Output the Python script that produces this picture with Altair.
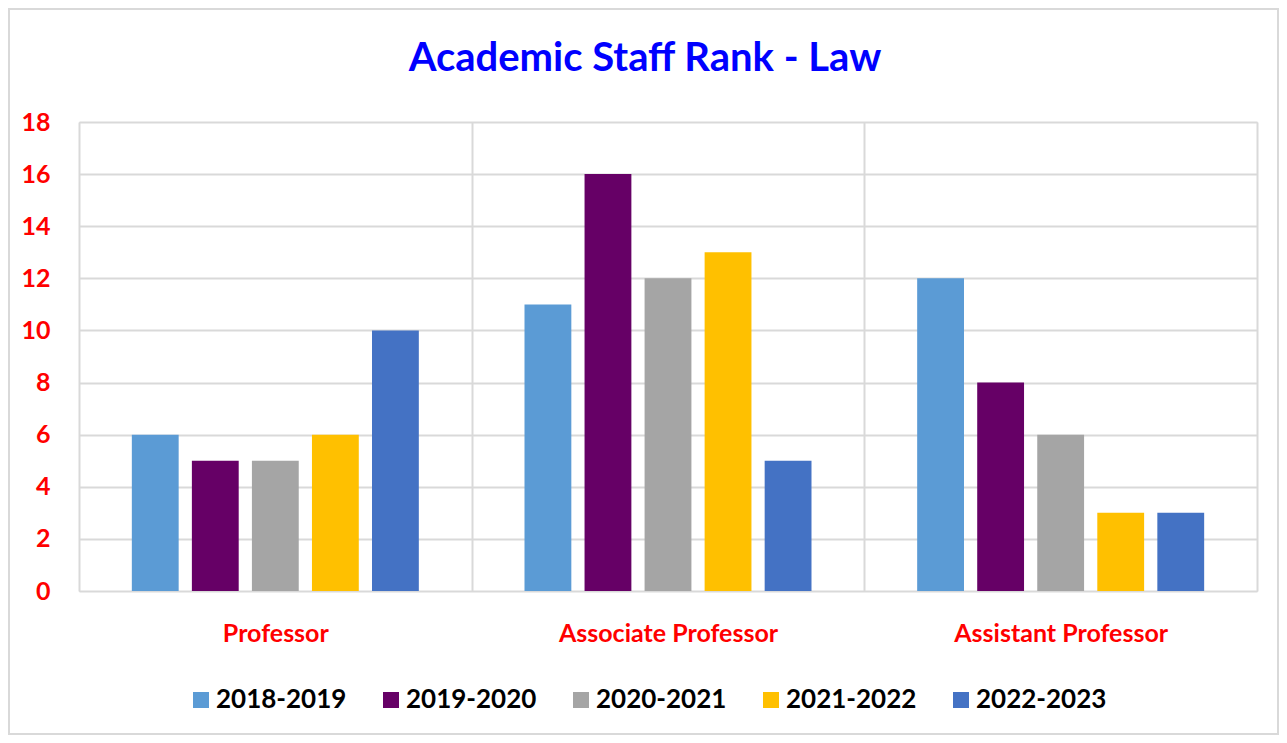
import altair as alt
import pandas as pd

ranks = ["Professor", "Associate Professor", "Assistant Professor"]
years = ["2018-2019", "2019-2020", "2020-2021", "2021-2022", "2022-2023"]
colors = ["#5B9BD5", "#660066", "#A5A5A5", "#FFC000", "#4472C4"]
v2018 = [6, 11, 12]
v2019 = [5, 16, 8]
v2020 = [5, 12, 6]
v2021 = [6, 13, 3]
v2022 = [10, 5, 3]

series = [v2018, v2019, v2020, v2021, v2022]
rows = []
for yr, vals in zip(years, series):
    for rk, v in zip(ranks, vals):
        rows.append({"rank": rk, "year": yr, "count": v})
df = pd.DataFrame(rows)

FONT = "Lato"

bars = alt.Chart(df).mark_bar().encode(
    x=alt.X("rank:N", sort=ranks, title=None,
            scale=alt.Scale(paddingInner=0, paddingOuter=0),
            axis=alt.Axis(labelAngle=0, labelColor="#FF0000", labelFont=FONT,
                          labelFontSize=25, labelFontWeight="bold", labelPadding=30,
                          labelLimit=500,
                          ticks=False, grid=True, tickBand="extent",
                          gridColor="#D9D9D9", gridWidth=2, domain=False)),
    xOffset=alt.XOffset("year:N", sort=years,
                        scale=alt.Scale(paddingInner=0.22, paddingOuter=0.88)),
    y=alt.Y("count:Q", title=None,
            scale=alt.Scale(domain=[0, 18]),
            axis=alt.Axis(values=list(range(0, 19, 2)), labelColor="#FF0000",
                          labelFont=FONT, labelFontSize=25, labelFontWeight="bold",
                          labelPadding=29, ticks=False, domain=False,
                          gridColor="#D9D9D9", gridWidth=2)),
    color=alt.Color("year:N", sort=years,
                    scale=alt.Scale(domain=years, range=colors),
                    legend=alt.Legend(title=None, orient="none", direction="horizontal",
                                      legendX=109, legendY=565,
                                      symbolType="square", symbolSize=256,
                                      symbolStrokeWidth=0, labelFont=FONT,
                                      labelFontSize=26, labelFontWeight="bold",
                                      labelColor="#000000", labelOffset=2,
                                      columnPadding=31, labelLimit=300)),
)

frame = alt.Chart(alt.Data(values=[{}])).mark_rect(
    fill=None, stroke="#D9D9D9", strokeWidth=2
).encode(x=alt.value(-70), y=alt.value(-113), x2=alt.value(1199), y2=alt.value(612))

chart = alt.layer(frame, bars).properties(
    width=1178, height=469,
    title=alt.Title("Academic Staff Rank - Law", color="#0000FF", font=FONT,
                    fontSize=40, fontWeight="bold", anchor="middle", dx=-23, offset=-71),
    autosize=alt.AutoSizeParams(type="none"),
    padding={"left": 71, "top": 114, "right": 22, "bottom": 144},
).configure_view(stroke="#D9D9D9", strokeWidth=2).configure(background="white")

chart.save("out.html", embed_options={"renderer": "svg", "actions": False})
